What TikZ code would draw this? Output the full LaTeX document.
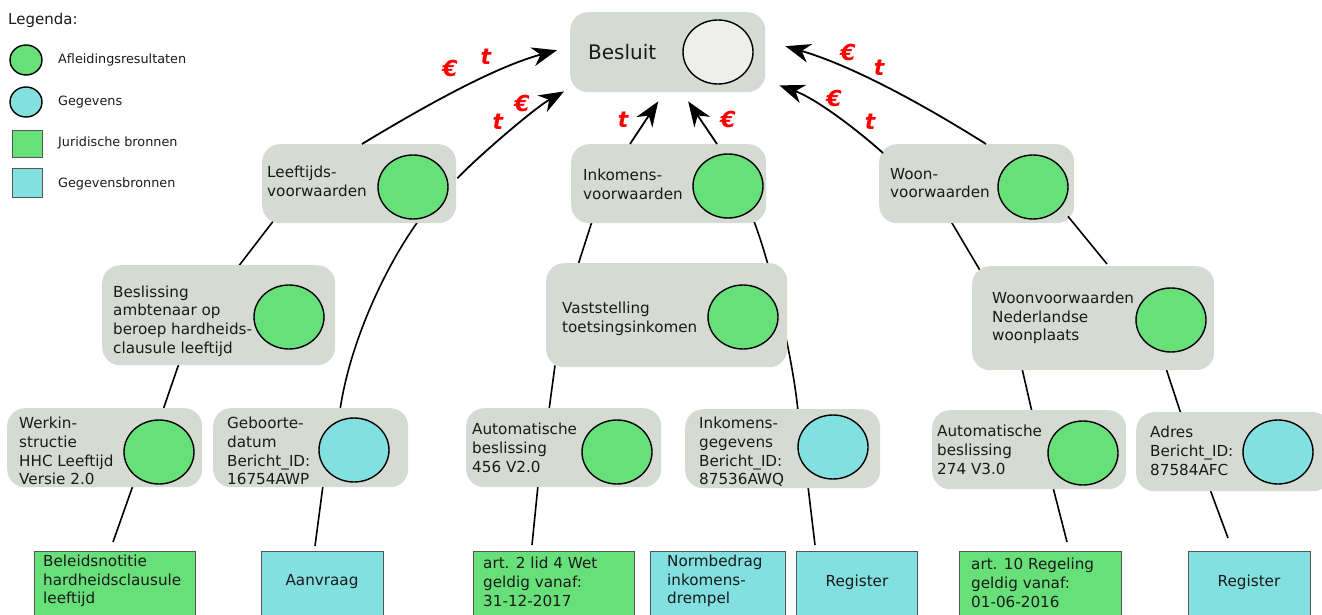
\documentclass[tikz,border=0pt]{standalone}
\usepackage{fontspec}
\setmainfont{DejaVu Sans}
\usetikzlibrary{arrows.meta,shapes.geometric}
\pgfdeclarelayer{bg}
\pgfsetlayers{bg,main}
\definecolor{boxgray}{HTML}{D5DAD3}
\definecolor{resgreen}{HTML}{68E07A}
\definecolor{datcyan}{HTML}{82E0E0}
\definecolor{pale}{HTML}{EEEEEC}
\definecolor{srcedge}{HTML}{555753}
\definecolor{inktext}{HTML}{1A1A1A}
\definecolor{tagred}{HTML}{FF0000}
\tikzset{
  card/.style={fill=boxgray, draw=none, rounded corners=18pt, inner sep=0pt, anchor=north west},
  res/.style={ellipse, draw=black, line width=1.4pt, fill=resgreen, minimum width=70pt, minimum height=64pt, inner sep=0pt},
  dat/.style={res, fill=datcyan},
  lbl/.style={anchor=west, align=left, inner sep=0pt, text=inktext, font=\fontsize{15.2}{18.7}\selectfont},
  srcbox/.style={draw=srcedge, line width=1pt, anchor=north west, minimum height=72pt, inner sep=0pt},
  legtext/.style={anchor=west, inner sep=0pt, text=inktext, font=\fontsize{12.8}{15}\selectfont},
  link/.style={line width=1.6pt},
  flow/.style={line width=1.8pt, -{Stealth[length=25pt,width=19pt,inset=8pt]}},
  tag/.style={text=tagred, inner sep=0pt, font=\fontsize{22}{22}\selectfont\bfseries\itshape}
}
\begin{document}
\begin{tikzpicture}[x=1pt,y=-1pt]
\useasboundingbox (0,0) rectangle (1322,615);

% ---------- legend ----------
\node[anchor=west, inner sep=0pt, text=inktext, font=\fontsize{15}{17}\selectfont] (legtitle) at (8,20) {Legenda:};
\node[res, minimum width=32pt, minimum height=30pt] (legres) at (26,60) {};
\node[dat, minimum width=32pt, minimum height=30pt] (legdat) at (26,102) {};
\node[srcbox, fill=resgreen, minimum width=30pt, minimum height=27pt] (legjur) at (12,130) {};
\node[srcbox, fill=datcyan, minimum width=30pt, minimum height=29pt] (legsrc) at (12,168) {};
\node[legtext] (legt1) at (58,60) {Afleidingsresultaten};
\node[legtext] (legt2) at (58,102) {Gegevens};
\node[legtext] (legt3) at (58,143) {Juridische bronnen};
\node[legtext] (legt4) at (58,184) {Gegevensbronnen};

% ---------- decision ----------
\node[card, minimum width=195pt, minimum height=80pt] (besluit) at (570,12) {};
\node[anchor=west, inner sep=0pt, text=inktext, font=\fontsize{20}{24}\selectfont] (besluittxt) at (588,52) {Besluit};
\node[res, fill=pale] (besluitC) at (718,52) {};

% ---------- first level ----------
\node[card, minimum width=194pt, minimum height=79pt] (lft) at (262,144) {};
\node[lbl] at (267,181) {Leeftijds-\\voorwaarden};
\node[res] (lftC) at (413,187) {};

\node[card, minimum width=195pt, minimum height=79pt] (ink) at (571,144) {};
\node[lbl] at (583,184) {Inkomens-\\voorwaarden};
\node[res] (inkC) at (728,186) {};

\node[card, minimum width=195pt, minimum height=79pt] (woon) at (879,144) {};
\node[lbl] at (890,183) {Woon-\\voorwaarden};
\node[res] (woonC) at (1033,187) {};

% ---------- second level ----------
\node[card, minimum width=233pt, minimum height=100pt] (besl) at (102,265) {};
\node[lbl] at (113,321) {Beslissing\\ambtenaar op\\beroep hardheids-\\clausule leeftijd};
\node[res] (beslC) at (289,317) {};

\node[card, minimum width=241pt, minimum height=104pt] (vast) at (546,263) {};
\node[lbl] at (562,318.5) {Vaststelling\\toetsingsinkomen};
\node[res] (vastC) at (743,317) {};

\node[card, minimum width=242pt, minimum height=104pt] (woonnl) at (972,266) {};
\node[lbl] at (992,318) {Woonvoorwaarden\\Nederlandse\\woonplaats};
\node[res] (woonnlC) at (1171,320) {};

% ---------- third level ----------
\node[card, minimum width=195pt, minimum height=79pt] (werk) at (7,408) {};
\node[lbl] at (19,451) {Werkin-\\structie\\HHC Leeftijd\\Versie 2.0};
\node[res] (werkC) at (159,452) {};

\node[card, minimum width=195pt, minimum height=79pt] (geb) at (213,408) {};
\node[lbl] at (227,451) {Geboorte-\\datum\\Bericht\_ID:\\16754AWP};
\node[dat] (gebC) at (354,450) {};

\node[card, minimum width=195pt, minimum height=79pt] (auto1) at (466,408) {};
\node[lbl] at (472,448) {Automatische\\beslissing\\456 V2.0};
\node[res] (auto1C) at (617,452) {};

\node[card, minimum width=195pt, minimum height=79pt] (inkg) at (685,409) {};
\node[lbl] at (699,452) {Inkomens-\\gegevens\\Bericht\_ID:\\87536AWQ};
\node[dat] (inkgC) at (833,447) {};

\node[card, minimum width=194pt, minimum height=79pt] (auto2) at (932,410) {};
\node[lbl] at (937,450) {Automatische\\beslissing\\274 V3.0};
\node[res] (auto2C) at (1083,453) {};

\node[card, minimum width=195pt, minimum height=79pt] (adres) at (1136,412) {};
\node[lbl] at (1150,451) {Adres\\Bericht\_ID:\\87584AFC};
\node[dat] (adresC) at (1278,452) {};

% ---------- sources ----------
\node[srcbox, fill=resgreen, minimum width=161pt] (bn1) at (34,551) {};
\node[lbl] at (43,581) {Beleidsnotitie\\hardheidsclausule\\leeftijd};
\node[srcbox, fill=datcyan, minimum width=122pt] (bn2) at (261,551) {};
\node[lbl, anchor=center] at (322,582) {Aanvraag};
\node[srcbox, fill=resgreen, minimum width=161pt] (bn3) at (473,551) {};
\node[lbl] at (483,582) {art. 2 lid 4 Wet\\geldig vanaf:\\31-12-2017};
\node[srcbox, fill=datcyan, minimum width=135pt] (bn4) at (650,551) {};
\node[lbl] at (667,581) {Normbedrag\\inkomens-\\drempel};
\node[srcbox, fill=datcyan, minimum width=121pt] (bn5) at (796,551) {};
\node[lbl, anchor=center] at (857,582) {Register};
\node[srcbox, fill=resgreen, minimum width=162pt] (bn6) at (959,551) {};
\node[lbl] at (971,583) {art. 10 Regeling\\geldig vanaf:\\01-06-2016};
\node[srcbox, fill=datcyan, minimum width=122pt] (bn7) at (1188,551) {};
\node[lbl, anchor=center] at (1249,582) {Register};

% ---------- links between the derivations (behind the cards) ----------
\begin{pgfonlayer}{bg}
  \draw[link] ([xshift=11pt,yshift=2pt]lft.south west) -- ([xshift=136pt,yshift=-2pt]besl.north west);
  \draw[link] ([xshift=156pt,yshift=2pt]lft.south west) .. controls +(-33,46) and +(10,-68) .. ([xshift=127pt,yshift=-2pt]geb.north west);
  \draw[link] ([xshift=77pt,yshift=2pt]besl.south west) -- ([xshift=156pt,yshift=-2pt]werk.north west);
  \draw[link] ([xshift=126pt,yshift=2pt]werk.south west) -- ([xshift=79pt,yshift=9pt]bn1.north west);
  \draw[link] ([xshift=110pt,yshift=2pt]geb.south west) -- ([xshift=54pt,yshift=5pt]bn2.north west);
  \draw[link] ([xshift=21pt,yshift=2pt]ink.south west) -- ([xshift=32pt,yshift=-2pt]vast.north west);
  \draw[link] ([xshift=183pt,yshift=2pt]ink.south west) .. controls +(16,42) and +(-6,-59) .. ([xshift=113pt,yshift=-2pt]inkg.north west);
  \draw[link] ([xshift=9pt,yshift=2pt]vast.south west) -- ([xshift=83pt,yshift=-2pt]auto1.north west);
  \draw[link] ([xshift=72pt,yshift=2pt]auto1.south west) -- ([xshift=59pt,yshift=6pt]bn3.north west);
  \draw[link] ([xshift=123pt,yshift=2pt]inkg.south west) -- ([xshift=19pt,yshift=6pt]bn5.north west);
  \draw[link] ([xshift=72pt,yshift=2pt]woon.south west) -- ([xshift=9pt,yshift=-6pt]woonnl.north west);
  \draw[link] ([xshift=50pt,yshift=2pt]woonnl.south west) -- ([xshift=100pt,yshift=-2pt]auto2.north west);
  \draw[link] ([xshift=194pt,yshift=2pt]woonnl.south west) -- ([xshift=45pt,yshift=-2pt]adres.north west);
  \draw[link] ([xshift=121pt,yshift=2pt]auto2.south west) -- ([xshift=108pt,yshift=9pt]bn6.north west);
  \draw[link] ([xshift=74pt,yshift=2pt]adres.south west) -- ([xshift=40pt,yshift=13pt]bn7.north west);
\end{pgfonlayer}
\draw[link] ([xshift=189pt,yshift=7pt]woon.south west) -- ([xshift=135pt,yshift=2pt]woonnl.north west);

% ---------- contributions to the decision ----------
\draw[flow] ([xshift=100pt]lft.north west) .. controls +(48,-29) and +(-67,18) .. ([xshift=-13pt,yshift=2pt]besluit.west);
\draw[flow] ([xshift=1pt,yshift=5.5pt]lft.east) .. controls +(20,-21) and +(-30,17) .. ([xshift=-6pt,yshift=1pt]besluit.south west);
\draw[flow] ([xshift=59pt]ink.north west) -- ([xshift=-9.5pt,yshift=-9pt]besluit.south);
\draw[flow] ([xshift=146pt]ink.north west) -- ([xshift=20.5pt,yshift=-9pt]besluit.south);
\draw[flow] ([xshift=4pt,yshift=-9pt]woon.north west) .. controls +(-28,-25) and +(36,13) .. ([xshift=14pt,yshift=7pt]besluit.south east);
\draw[flow] ([xshift=107pt]woon.north west) .. controls +(-46,-29) and +(75,22) .. ([xshift=20pt,yshift=6pt]besluit.east);

% ---------- money / time tags ----------
\node[tag] (e1) at (450,68) {€};
\node[tag] (t1) at (486,57) {t};
\node[tag] (e2) at (522,103) {€};
\node[tag] (t2) at (498,122) {t};
\node[tag] (t3) at (623,120) {t};
\node[tag] (e3) at (728,119) {€};
\node[tag] (e4) at (834,98) {€};
\node[tag] (t4) at (870,122) {t};
\node[tag] (e5) at (848,52) {€};
\node[tag] (t5) at (879,68) {t};
\end{tikzpicture}
\end{document}
